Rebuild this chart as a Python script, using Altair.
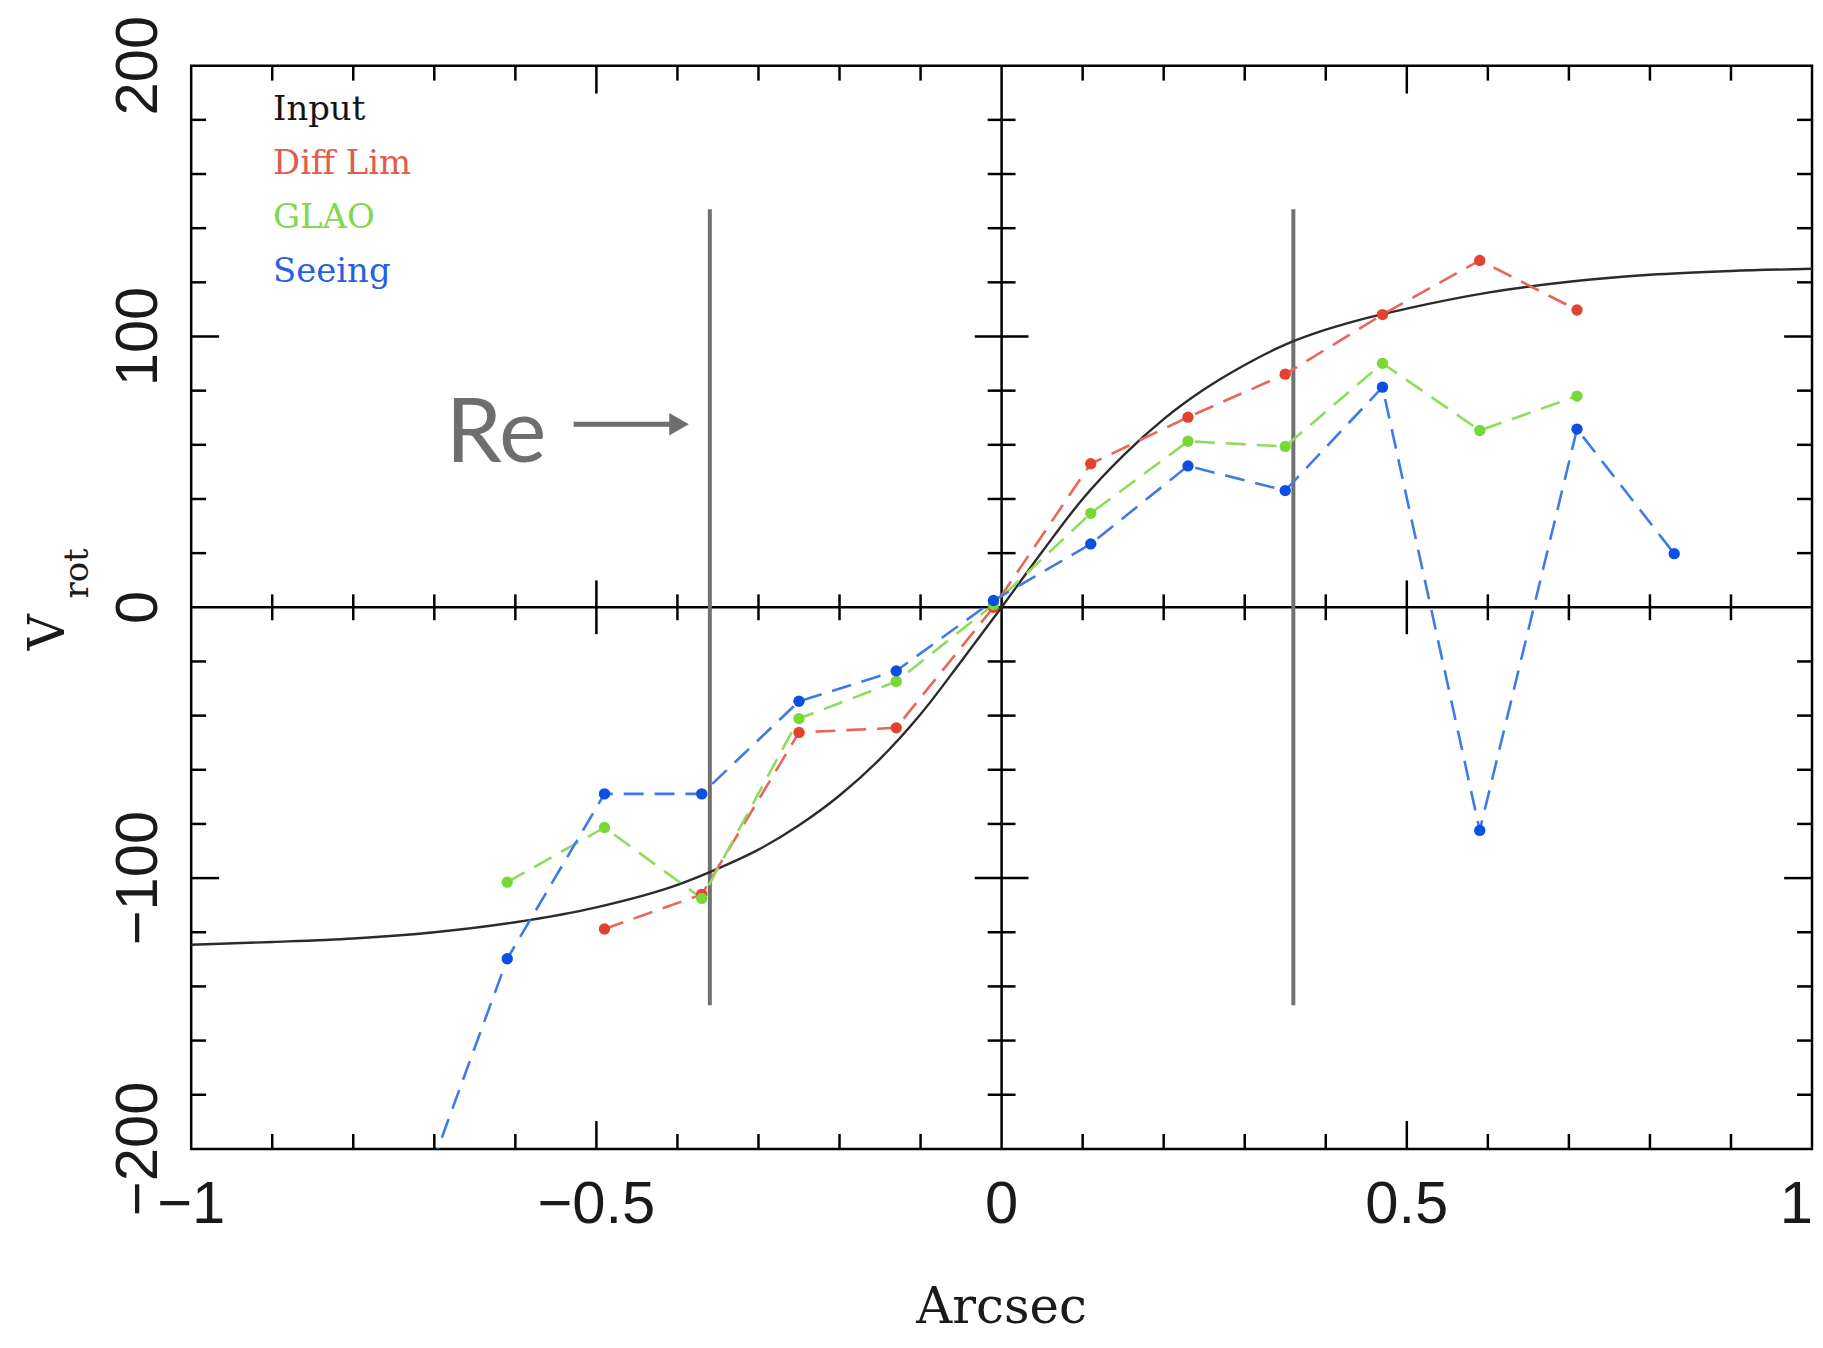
import altair as alt
import pandas as pd

# ---------------- data ----------------
x_pos = [-0.73, -0.61, -0.49, -0.37, -0.25, -0.13, -0.01, 0.11, 0.23, 0.35, 0.47, 0.59, 0.71, 0.83]
diff_lim = [None, None, -118.8, -106.0, -46.2, -44.5, 0.0, 53.0, 70.2, 86.1, 108.1, 128.1, 109.8, None]
glao = [None, -101.5, -81.3, -107.5, -41.1, -27.4, 1.0, 34.7, 61.3, 59.4, 90.1, 65.3, 78.0, None]
seeing = [-228.0, -129.8, -68.9, -68.9, -34.7, -23.5, 2.5, 23.4, 52.2, 43.1, 81.3, -82.4, 65.8, 19.8]

input_x = [-1.0, -0.9, -0.8, -0.7, -0.6, -0.5, -0.4, -0.35, -0.3, -0.25, -0.2, -0.15, -0.1, -0.05, 0.0,
           0.05, 0.1, 0.15, 0.2, 0.25, 0.3, 0.35, 0.4, 0.45, 0.5, 0.6, 0.7, 0.8, 0.9, 1.0]
input_v = [-124.6, -123.6, -122.3, -120.0, -116.3, -110.8, -102.5, -96.5, -89.5, -80.5, -69.5, -56.0, -39.5,
           -20.0, 0.0, 20.5, 40.0, 56.0, 69.5, 80.5, 89.5, 97.0, 102.5, 106.8, 110.3, 116.2, 120.2, 122.8,
           124.2, 125.0]

series_names = ["Diff Lim", "GLAO", "Seeing"]
line_colors = ["#e8675a", "#8fdc5c", "#3f7be6"]
point_colors = ["#e2432f", "#78d83a", "#0b4fe3"]

legend_labels = ["Input", "Diff Lim", "GLAO", "Seeing"]
legend_colors = ["#141414", "#e25b4c", "#7fd84e", "#2461e6"]

x_label_values = [-1, -0.5, 0, 0.5, 1]
x_label_texts = ["\u22121", "\u22120.5", "0", "0.5", "1"]
y_label_values = [-200, -100, 0, 100, 200]
y_label_texts = ["\u2212200", "\u2212100", "0", "100", "200"]
x_minor_ticks = [-0.9, -0.8, -0.7, -0.6, -0.4, -0.3, -0.2, -0.1, 0.1, 0.2, 0.3, 0.4, 0.6, 0.7, 0.8, 0.9]
x_major_ticks = [-0.5, 0.5]
y_minor_ticks = [-180, -160, -140, -120, -80, -60, -40, -20, 20, 40, 60, 80, 120, 140, 160, 180]
y_major_ticks = [-100, 100]

re_lines_x = [-0.36, 0.36]
re_lines_extent = [-147, 147]

# ---------------- scales / helpers ----------------
W, H = 1628, 1088
xs = alt.Scale(domain=[-1, 1], nice=False, zero=False)
ys = alt.Scale(domain=[-200, 200], nice=False, zero=False)


def X(field="x"):
    return alt.X(f"{field}:Q", scale=xs, axis=None)


def Y(field="y"):
    return alt.Y(f"{field}:Q", scale=ys, axis=None)


TW = 2.5
layers = []

# centre lines
layers.append(alt.Chart(pd.DataFrame({"y": [0]})).mark_rule(color="black", strokeWidth=TW).encode(y=Y()))
layers.append(alt.Chart(pd.DataFrame({"x": [0]})).mark_rule(color="black", strokeWidth=TW).encode(x=X()))


def xticks(vals, yval, off0, off1):
    df = pd.DataFrame({"x": vals, "y": [yval] * len(vals)})
    return alt.Chart(df).mark_rule(color="black", strokeWidth=TW, yOffset=off0, y2Offset=off1).encode(
        x=X(), y=Y(), y2=alt.Y2("y:Q"))


def yticks(vals, xval, off0, off1):
    df = pd.DataFrame({"y": vals, "x": [xval] * len(vals)})
    return alt.Chart(df).mark_rule(color="black", strokeWidth=TW, xOffset=off0, x2Offset=off1).encode(
        y=Y(), x=X(), x2=alt.X2("x:Q"))


MIN_L, MAJ_L = 15, 28
layers += [
    xticks(x_minor_ticks, -200, 0, -MIN_L), xticks(x_major_ticks, -200, 0, -MAJ_L),
    xticks(x_minor_ticks, 200, 0, MIN_L), xticks(x_major_ticks, 200, 0, MAJ_L),
    xticks(x_minor_ticks, 0, -13, 13), xticks(x_major_ticks, 0, -27, 27),
    yticks(y_minor_ticks, -1, 0, MIN_L), yticks(y_major_ticks, -1, 0, MAJ_L),
    yticks(y_minor_ticks, 1, 0, -MIN_L), yticks(y_major_ticks, 1, 0, -MAJ_L),
    yticks(y_minor_ticks, 0, -14, 14), yticks(y_major_ticks, 0, -27, 27),
]

# tick labels (the last x label is nudged left so it stays inside the page)
xl_df = pd.DataFrame({"x": x_label_values[:-1], "y": [-200] * (len(x_label_values) - 1),
                      "t": x_label_texts[:-1]})
layers.append(alt.Chart(xl_df).mark_text(font="Liberation Sans", fontSize=60, color="#1a1a1a",
                                         align="center", baseline="alphabetic", yOffset=74).encode(
    x=X(), y=Y(), text="t:N"))
xl_last = pd.DataFrame({"x": x_label_values[-1:], "y": [-200], "t": x_label_texts[-1:]})
layers.append(alt.Chart(xl_last).mark_text(font="Liberation Sans", fontSize=60, color="#1a1a1a",
                                           align="right", baseline="alphabetic", yOffset=74,
                                           xOffset=1).encode(x=X(), y=Y(), text="t:N"))
yl_df = pd.DataFrame({"y": y_label_values, "x": [-1] * len(y_label_values), "t": y_label_texts})
layers.append(alt.Chart(yl_df).mark_text(font="Liberation Sans", fontSize=60, color="#1a1a1a", angle=270,
                                         align="center", baseline="alphabetic", xOffset=-34).encode(
    x=X(), y=Y(), text="t:N"))

# Re lines
re_df = pd.DataFrame({"x": re_lines_x, "y": [re_lines_extent[0]] * 2, "y2": [re_lines_extent[1]] * 2})
layers.append(alt.Chart(re_df).mark_rule(color="#717171", strokeWidth=4).encode(
    x=X(), y=Y(), y2=alt.Y2("y2:Q")))

# Input curve
curve_df = pd.DataFrame({"x": input_x, "y": input_v})
layers.append(alt.Chart(curve_df).mark_line(color="#2b2b2b", strokeWidth=2.4, interpolate="monotone",
                                            clip=True).encode(x=X(), y=Y()))

# dashed series with dots, one layer each
for name, vals, lc in zip(series_names, [diff_lim, glao, seeing], line_colors):
    df = pd.DataFrame({"x": [a for a, b in zip(x_pos, vals) if b is not None],
                       "y": [b for b in vals if b is not None]})
    layers.append(alt.Chart(df).mark_line(color=lc, strokeWidth=2.6, strokeDash=[20, 11],
                                          clip=True).encode(x=X(), y=Y()))
for name, vals, pc in zip(series_names, [diff_lim, glao, seeing], point_colors):
    df = pd.DataFrame({"x": [a for a, b in zip(x_pos, vals) if b is not None],
                       "y": [b for b in vals if b is not None]})
    layers.append(alt.Chart(df).mark_circle(color=pc, size=130, opacity=1, clip=True).encode(x=X(), y=Y()))

# in-plot legend text
for i, (lab, col) in enumerate(zip(legend_labels, legend_colors)):
    df = pd.DataFrame({"x": [-0.899], "y": [180 - 20 * i], "t": [lab]})
    layers.append(alt.Chart(df).mark_text(font="DejaVu Serif", fontSize=34, align="left", color=col,
                                          baseline="alphabetic").encode(x=X(), y=Y(), text="t:N"))

# "Re ->" annotation
layers.append(alt.Chart(pd.DataFrame({"x": [-0.686], "y": [53.7], "t": ["Re"]})).mark_text(
    font="Lato", fontSize=90, color="#6e6e6e", align="left", baseline="alphabetic").encode(
    x=X(), y=Y(), text="t:N"))
layers.append(alt.Chart(pd.DataFrame({"x": [-0.528], "x2": [-0.400], "y": [67.6]})).mark_rule(
    color="#6e6e6e", strokeWidth=5).encode(x=X(), x2=alt.X2("x2:Q"), y=Y()))
layers.append(alt.Chart(pd.DataFrame({"x": [-0.398], "y": [67.6]})).mark_point(
    shape="triangle-right", size=520, filled=True, opacity=1, color="#6e6e6e").encode(x=X(), y=Y()))

# axis titles
one = alt.Data(values=[{"a": 1}])
layers.append(alt.Chart(one).mark_text(text="V", font="DejaVu Serif", fontSize=50, angle=270,
                                       align="center", baseline="alphabetic", color="#1a1a1a").encode(
    x=alt.value(-128), y=alt.value(569)))
layers.append(alt.Chart(one).mark_text(text="rot", font="DejaVu Serif", fontSize=34, angle=270,
                                       align="center", baseline="alphabetic", color="#1a1a1a").encode(
    x=alt.value(-104), y=alt.value(510)))
layers.append(alt.Chart(one).mark_text(text="Arcsec", font="DejaVu Serif", fontSize=50,
                                       align="center", baseline="alphabetic", color="#1a1a1a").encode(
    x=alt.value(W / 2), y=alt.value(H + 175)))

chart = alt.layer(*layers).properties(
    width=W, height=H,
    padding={"left": 184, "top": 55, "right": 3, "bottom": 189},
    autosize=alt.AutoSizeParams(type="none"),
    background="white",
).configure_view(stroke="black", strokeWidth=TW)

chart.save("out.html", embed_options={"renderer": "svg", "actions": False})
